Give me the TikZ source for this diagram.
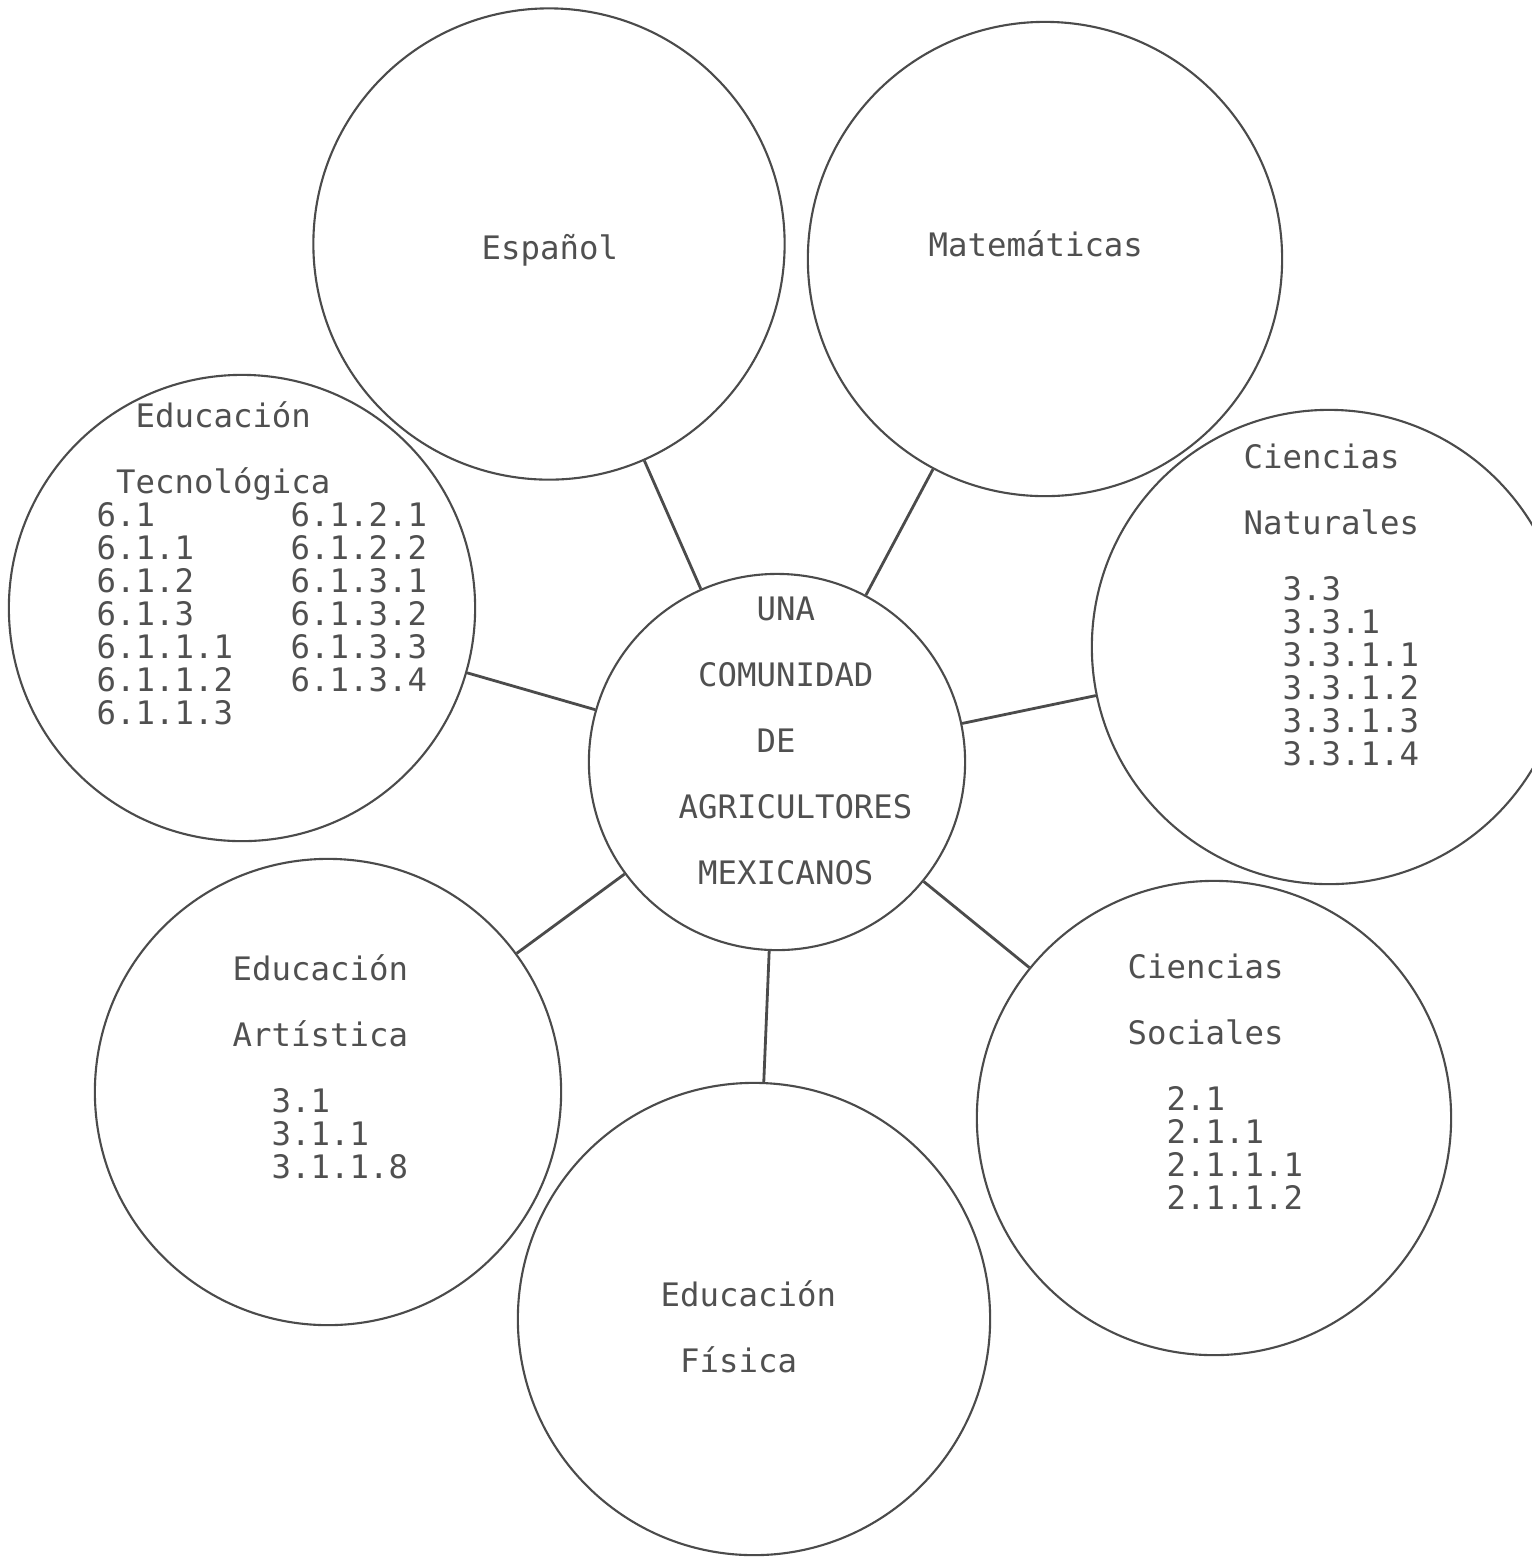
\documentclass[tikz,border=0pt]{standalone}
\usepackage{fontspec}
\setmonofont{DejaVu Sans Mono}
\usepackage{tikz}
\usetikzlibrary{positioning}
\definecolor{inkgray}{RGB}{80,80,80}
\definecolor{linegray}{RGB}{75,75,75}

\begin{document}
\begin{tikzpicture}[x=0.01cm, y=-0.01cm, every node/.style={font=\ttfamily\fontsize{9.2pt}{9.36pt}\selectfont, text=inkgray, inner sep=0pt}]
\tikzstyle{bubble}=[circle, draw=linegray, line width=0.6pt]
\tikzstyle{txt}=[anchor=base west, align=left]
\tikzstyle{link}=[draw=linegray, line width=0.8pt]
\path[use as bounding box, clip] (0,0) rectangle (1532,1559);
\node[bubble, minimum size=3.76cm] (centro) at (777,762) {};
\node[bubble, minimum size=4.71cm] (espanol) at (549,244) {};
\node[bubble, minimum size=4.74cm] (mate) at (1045,259) {};
\node[bubble, minimum size=4.74cm] (naturales) at (1329,647) {};
\node[bubble, minimum size=4.74cm] (sociales) at (1214,1118) {};
\node[bubble, minimum size=4.72cm] (fisica) at (754,1319) {};
\node[bubble, minimum size=4.66cm] (artistica) at (328,1092) {};
\node[bubble, minimum size=4.66cm] (tecno) at (242,608) {};
\node[txt] (centroTxt) at (678,884) {\phantom{XXXX}UNA\\[9.36pt]\phantom{X}COMUNIDAD\\[9.36pt]\phantom{XXXX}DE\\[9.36pt]AGRICULTORES\\[9.36pt]\phantom{X}MEXICANOS};
\node[txt] (espTxt) at (481,259) {Español};
\node[txt] (mateTxt) at (928,256) {Matemáticas};
\node[txt] (tecTxt) at (96,724) {\phantom{XX}Educación\\[9.36pt]\phantom{X}Tecnológica\\6.1\\6.1.1\\6.1.2\\6.1.3\\6.1.1.1\\6.1.1.2\\6.1.1.3};
\node[txt] (tecCol) at (290,691) {6.1.2.1\\6.1.2.2\\6.1.3.1\\6.1.3.2\\6.1.3.3\\6.1.3.4};
\node[txt] (natTxt) at (1243,765) {Ciencias\\[9.36pt]Naturales\\[9.36pt]\phantom{XX}3.3\\\phantom{XX}3.3.1\\\phantom{XX}3.3.1.1\\\phantom{XX}3.3.1.2\\\phantom{XX}3.3.1.3\\\phantom{XX}3.3.1.4};
\node[txt] (socTxt) at (1127,1209) {Ciencias\\[9.36pt]Sociales\\[9.36pt]\phantom{XX}2.1\\\phantom{XX}2.1.1\\\phantom{XX}2.1.1.1\\\phantom{XX}2.1.1.2};
\node[txt] (artTxt) at (232,1178) {Educación\\[9.36pt]Artística\\[9.36pt]\phantom{XX}3.1\\\phantom{XX}3.1.1\\\phantom{XX}3.1.1.8};
\node[txt] (fisTxt) at (660,1372) {Educación\\[9.36pt]\phantom{X}Física};
\draw[link] (centro)--(espanol); \draw[link] (centro)--(mate); \draw[link] (centro)--(naturales); \draw[link] (centro)--(sociales); \draw[link] (centro)--(fisica); \draw[link] (centro)--(artistica); \draw[link] (centro)--(tecno);
\end{tikzpicture}
\end{document}
